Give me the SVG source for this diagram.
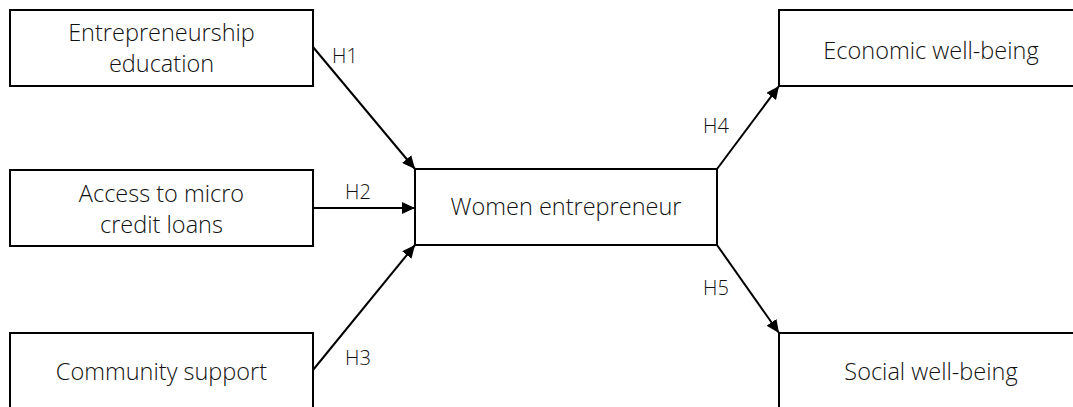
<svg xmlns="http://www.w3.org/2000/svg" width="1073" height="407" viewBox="0 0 1073 407">
<style>
.box{fill:#fff;stroke:#000;stroke-width:2}
.t{font-family:"Open Sans","Liberation Sans",sans-serif;font-weight:300;font-size:23.5px;fill:#111;text-anchor:middle}
.h{font-family:"Open Sans","Liberation Sans",sans-serif;font-weight:300;font-size:20px;fill:#111}
.c{stroke:#000;stroke-width:2;fill:none;marker-end:url(#ah)}
</style>
<defs>
<marker id="ah" markerUnits="userSpaceOnUse" markerWidth="14" markerHeight="12" refX="13" refY="6" orient="auto">
<path d="M0,0 L13,6 L0,12 Z" fill="#000"/>
</marker>
</defs>
<g id="connectors">
<line class="c" x1="313" y1="47" x2="415" y2="169"/>
<line class="c" x1="313" y1="208" x2="415" y2="208"/>
<line class="c" x1="313" y1="370" x2="415" y2="245"/>
<line class="c" x1="717" y1="169" x2="779" y2="86"/>
<line class="c" x1="717" y1="245" x2="779" y2="333"/>
<text class="h" x="332" y="63">H1</text>
<text class="h" x="345" y="199">H2</text>
<text class="h" x="345" y="365">H3</text>
<text class="h" x="703" y="133">H4</text>
<text class="h" x="703" y="295">H5</text>
</g>
<g id="n1"><rect class="box" x="10" y="10" width="303" height="76"/><text class="t" x="161.5" y="41">Entrepreneurship</text><text class="t" x="161.5" y="72">education</text></g>
<g id="n2"><rect class="box" x="10" y="170" width="303" height="76"/><text class="t" x="161.5" y="202">Access to micro</text><text class="t" x="161.5" y="233">credit loans</text></g>
<g id="n3"><rect class="box" x="10" y="333" width="303" height="80"/><text class="t" x="161.5" y="380">Community support</text></g>
<g id="n4"><rect class="box" x="415" y="169" width="302" height="76"/><text class="t" x="566" y="215">Women entrepreneur</text></g>
<g id="n5"><rect class="box" x="779" y="10" width="304" height="76"/><text class="t" x="931" y="59">Economic well-being</text></g>
<g id="n6"><rect class="box" x="779" y="333" width="304" height="80"/><text class="t" x="931" y="380">Social well-being</text></g>
</svg>
